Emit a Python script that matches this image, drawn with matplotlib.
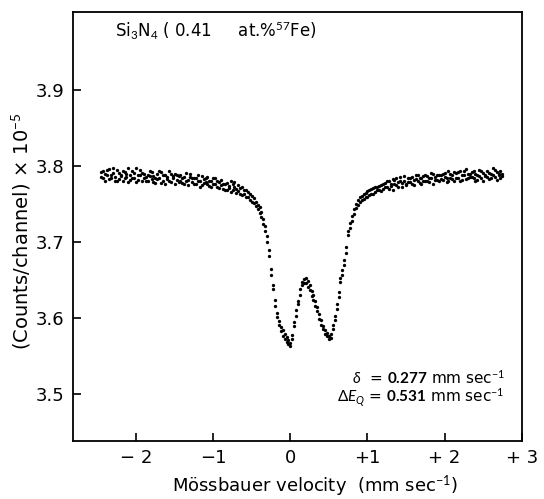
import matplotlib
matplotlib.use("Agg")
import matplotlib.pyplot as plt
from matplotlib.ticker import FixedLocator, FixedFormatter

plt.rcParams['font.family'] = ['DejaVu Sans']
plt.rcParams['mathtext.fontset'] = 'custom'
plt.rcParams['mathtext.rm'] = 'Lato'
plt.rcParams['mathtext.it'] = 'Lato:italic'
plt.rcParams['mathtext.bf'] = 'Lato:bold'

# velocity (mm/s) and counts/channel (x 1e5)
velocity = [
    -2.45, -2.425, -2.4, -2.375, -2.35, -2.325, -2.3, -2.275,
    -2.25, -2.225, -2.2, -2.175, -2.15, -2.125, -2.1, -2.075,
    -2.05, -2.025, -2.0, -1.975, -1.95, -1.925, -1.9, -1.875,
    -1.85, -1.825, -1.8, -1.775, -1.75, -1.725, -1.7, -1.675,
    -1.65, -1.625, -1.6, -1.575, -1.55, -1.525, -1.5, -1.475,
    -1.45, -1.425, -1.4, -1.375, -1.35, -1.325, -1.3, -1.275,
    -1.25, -1.225, -1.2, -1.175, -1.15, -1.125, -1.1, -1.075,
    -1.05, -1.025, -1.0, -0.975, -0.95, -0.925, -0.9, -0.875,
    -0.85, -0.825, -0.8, -0.775, -0.75, -0.725, -0.7, -0.675,
    -0.65, -0.625, -0.6, -0.575, -0.55, -0.525, -0.5, -0.475,
    -0.45, -0.425, -0.4, -0.375, -0.35, -0.325, -0.3, -0.275,
    -0.25, -0.225, -0.2, -0.175, -0.15, -0.125, -0.1, -0.075,
    -0.05, -0.025, 0.0, 0.025, 0.05, 0.075, 0.1, 0.125,
    0.15, 0.175, 0.2, 0.225, 0.25, 0.275, 0.3, 0.325,
    0.35, 0.375, 0.4, 0.425, 0.45, 0.475, 0.5, 0.525,
    0.55, 0.575, 0.6, 0.625, 0.65, 0.675, 0.7, 0.725,
    0.75, 0.775, 0.8, 0.825, 0.85, 0.875, 0.9, 0.925,
    0.95, 0.975, 1.0, 1.025, 1.05, 1.075, 1.1, 1.125,
    1.15, 1.175, 1.2, 1.225, 1.25, 1.275, 1.3, 1.325,
    1.35, 1.375, 1.4, 1.425, 1.45, 1.475, 1.5, 1.525,
    1.55, 1.575, 1.6, 1.625, 1.65, 1.675, 1.7, 1.725,
    1.75, 1.775, 1.8, 1.825, 1.85, 1.875, 1.9, 1.925,
    1.95, 1.975, 2.0, 2.025, 2.05, 2.075, 2.1, 2.125,
    2.15, 2.175, 2.2, 2.225, 2.25, 2.275, 2.3, 2.325,
    2.35, 2.375, 2.4, 2.425, 2.45, 2.475, 2.5, 2.525,
    2.55, 2.575, 2.6, 2.625, 2.65, 2.675, 2.7, 2.725,
    2.75,
]
# first half of the folded spectrum
counts_a = [
    3.792, 3.785, 3.790, 3.795, 3.783, 3.788, 3.797, 3.786,
    3.781, 3.791, 3.787, 3.794, 3.784, 3.790, 3.779, 3.789,
    3.793, 3.785, 3.798, 3.782, 3.788, 3.791, 3.784, 3.780,
    3.789, 3.794, 3.783, 3.787, 3.778, 3.790, 3.785, 3.792,
    3.781, 3.788, 3.786, 3.793, 3.779, 3.784, 3.790, 3.782,
    3.787, 3.780, 3.785, 3.776, 3.791, 3.782, 3.786, 3.779,
    3.784, 3.777, 3.788, 3.780, 3.775, 3.783, 3.779, 3.786,
    3.774, 3.781, 3.777, 3.784, 3.772, 3.779, 3.775, 3.770,
    3.777, 3.769, 3.774, 3.780, 3.768, 3.772, 3.765, 3.775,
    3.771, 3.762, 3.768, 3.760, 3.766, 3.756, 3.761, 3.752,
    3.753, 3.744, 3.746, 3.733, 3.731, 3.714, 3.708, 3.682,
    3.665, 3.638, 3.624, 3.602, 3.596, 3.583, 3.584, 3.573,
    3.575, 3.566, 3.563, 3.578, 3.589, 3.610, 3.618, 3.638,
    3.643, 3.652, 3.646, 3.649, 3.637, 3.635, 3.624, 3.622,
    3.614, 3.599, 3.597, 3.585, 3.584, 3.576, 3.573, 3.579,
    3.586, 3.603, 3.612, 3.634, 3.648, 3.663, 3.670, 3.693,
    3.709, 3.725, 3.728, 3.743, 3.745, 3.756, 3.753, 3.761,
    3.757, 3.765, 3.760, 3.769, 3.763, 3.771, 3.766, 3.773,
    3.768, 3.775, 3.770, 3.778, 3.772, 3.780, 3.774, 3.769,
    3.782, 3.775, 3.779, 3.786, 3.773, 3.781, 3.777, 3.784,
    3.779, 3.786, 3.775, 3.783, 3.789, 3.778, 3.785, 3.781,
    3.788, 3.780, 3.784, 3.791, 3.777, 3.786, 3.782, 3.789,
    3.783, 3.790, 3.786, 3.779, 3.793, 3.784, 3.788, 3.781,
    3.791, 3.785, 3.794, 3.782, 3.788, 3.796, 3.784, 3.790,
    3.786, 3.793, 3.781, 3.789, 3.795, 3.784, 3.791, 3.787,
    3.794, 3.783, 3.790, 3.797, 3.786, 3.792, 3.788, 3.785,
    3.790,
]
# second half of the folded spectrum
counts_b = [
    3.786, 3.794, 3.781, 3.789, 3.796, 3.784, 3.791, 3.780,
    3.795, 3.783, 3.789, 3.780, 3.792, 3.786, 3.797, 3.782,
    3.784, 3.791, 3.779, 3.788, 3.795, 3.781, 3.790, 3.786,
    3.781, 3.787, 3.792, 3.779, 3.785, 3.783, 3.793, 3.778,
    3.789, 3.777, 3.783, 3.781, 3.790, 3.787, 3.776, 3.788,
    3.779, 3.789, 3.778, 3.786, 3.781, 3.775, 3.790, 3.784,
    3.777, 3.785, 3.781, 3.773, 3.787, 3.778, 3.784, 3.776,
    3.781, 3.773, 3.784, 3.776, 3.780, 3.771, 3.782, 3.777,
    3.769, 3.778, 3.771, 3.766, 3.776, 3.779, 3.770, 3.767,
    3.764, 3.772, 3.763, 3.769, 3.759, 3.764, 3.753, 3.758,
    3.747, 3.749, 3.738, 3.740, 3.724, 3.721, 3.700, 3.689,
    3.657, 3.644, 3.616, 3.607, 3.591, 3.588, 3.577, 3.579,
    3.569, 3.571, 3.567, 3.572, 3.595, 3.603, 3.623, 3.631,
    3.648, 3.646, 3.653, 3.641, 3.643, 3.629, 3.630, 3.616,
    3.609, 3.605, 3.591, 3.590, 3.579, 3.581, 3.577, 3.574,
    3.591, 3.597, 3.618, 3.628, 3.653, 3.657, 3.676, 3.686,
    3.715, 3.719, 3.734, 3.737, 3.750, 3.749, 3.760, 3.755,
    3.763, 3.759, 3.767, 3.762, 3.770, 3.764, 3.773, 3.768,
    3.774, 3.767, 3.777, 3.773, 3.781, 3.770, 3.776, 3.783,
    3.776, 3.784, 3.772, 3.780, 3.778, 3.787, 3.775, 3.779,
    3.785, 3.777, 3.782, 3.788, 3.780, 3.784, 3.776, 3.787,
    3.781, 3.787, 3.779, 3.785, 3.790, 3.782, 3.788, 3.780,
    3.789, 3.782, 3.791, 3.785, 3.781, 3.790, 3.783, 3.792,
    3.784, 3.792, 3.780, 3.789, 3.793, 3.783, 3.790, 3.786,
    3.792, 3.784, 3.790, 3.782, 3.787, 3.793, 3.780, 3.789,
    3.786, 3.791, 3.784, 3.788, 3.795, 3.782, 3.790, 3.793,
    3.787,
]

xticks = [-2, -1, 0, 1, 2, 3]
xtick_labels = ['\u2212 2', '\u22121', '0', '+1', '+ 2', '+ 3']
yticks = [3.5, 3.6, 3.7, 3.8, 3.9]

fig = plt.figure(figsize=(5.44, 4.99), dpi=100)
ax = fig.add_axes([0.134, 0.116, 0.825, 0.860])

ax.plot(velocity, counts_a, 'o', color='black', markersize=2.4, markeredgewidth=0)
ax.plot(velocity, counts_b, 'o', color='black', markersize=2.4, markeredgewidth=0)

ax.set_xlim(-2.82, 3.0)
ax.set_ylim(3.438, 4.003)

ax.xaxis.set_major_locator(FixedLocator(xticks))
ax.xaxis.set_major_formatter(FixedFormatter(xtick_labels))
ax.yaxis.set_major_locator(FixedLocator(yticks))
ax.tick_params(direction='in', length=6, width=1.2, labelsize=13)
ax.tick_params(axis='x', pad=6)
ax.tick_params(axis='y', pad=6)
for s in ax.spines.values():
    s.set_linewidth(1.3)

ax.set_xlabel('Mössbauer velocity  (mm sec$^{-1}$)', fontsize=13)
ax.xaxis.set_label_coords(0.54, -0.075)
ax.set_ylabel('(Counts/channel) \u00d7 10$^{-5}$', fontsize=14)
ax.yaxis.set_label_coords(-0.09, 0.49)

ax.text(0.094, 0.955, 'Si$_3$N$_4$ ( 0.41     at.%$^{57}$Fe)', transform=ax.transAxes,
        fontsize=12, ha='left', va='center')
ax.text(0.962, 0.147, '$\\mathit{\\delta}$  = $\\mathbf{0.277}$ mm sec$^{-1}$', transform=ax.transAxes,
        fontsize=11, ha='right', va='center')
ax.text(0.962, 0.100, '$\\Delta E_Q$ = $\\mathbf{0.531}$ mm sec$^{-1}$', transform=ax.transAxes,
        fontsize=11, ha='right', va='center')

fig.savefig('out.png', dpi=100)
